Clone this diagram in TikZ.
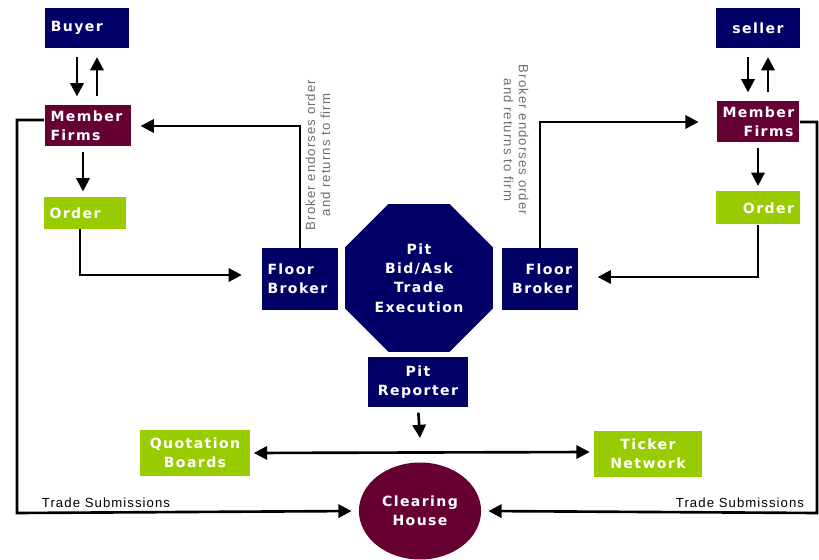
\documentclass[tikz,border=0pt]{standalone}
\usepackage{fontspec}
\usepackage{tikz}
\usetikzlibrary{shapes.geometric,arrows.meta}
\newfontfamily\boxfont[LetterSpace=10]{DejaVu Sans Bold}
\newfontfamily\notefont[LetterSpace=8]{Liberation Sans}
\definecolor{navy}{RGB}{0,0,102}
\definecolor{wine}{RGB}{102,0,51}
\definecolor{lime}{RGB}{153,204,0}
\definecolor{notegrey}{RGB}{110,110,110}

\begin{document}
\begin{tikzpicture}[x=0.02cm,y=-0.02cm,
        box/.style={rectangle,text=white,inner sep=3pt,
            font=\boxfont\fontsize{8}{11}\selectfont},
        navybox/.style={box,fill=navy},
        winebox/.style={box,fill=wine},
        limebox/.style={box,fill=lime},
        arr/.style={line width=1.5pt,-{Triangle[length=7.5pt,width=7.5pt]}},
        note/.style={text=notegrey,font=\notefont\fontsize{7.5}{8.5}\selectfont,align=center},
        sub/.style={font=\notefont\fontsize{7.5}{8}\selectfont}]
                % Fix the page size
                \useasboundingbox (0,0) rectangle (819,560);
                % Draw the buyer side
                \node[navybox,minimum width=1.7cm,minimum height=0.8cm,text width=1.45cm,align=left] (buyer) at (87,28) {Buyer};
                \node[winebox,minimum width=1.74cm,minimum height=0.82cm,text width=1.5cm,align=left] (mfl) at (88,126) {Member\\Firms};
                \node[limebox,minimum width=1.66cm,minimum height=0.64cm,text width=1.42cm,align=left] (ordl) at (85,213) {Order};
                \node[navybox,minimum width=1.54cm,minimum height=1.24cm,text width=1.3cm,align=left] (fbl) at (300,279) {Floor\\Broker};
                % Draw the seller side
                \node[navybox,minimum width=1.68cm,minimum height=0.8cm,align=center] (seller) at (758,28) {seller};
                \node[winebox,minimum width=1.66cm,minimum height=0.82cm,text width=1.42cm,align=right] (mfr) at (758,122) {Member\\Firms};
                \node[limebox,minimum width=1.68cm,minimum height=0.66cm,text width=1.44cm,align=right] (ordr) at (758,208) {Order};
                \node[navybox,minimum width=1.52cm,minimum height=1.24cm,text width=1.28cm,align=right] (fbr) at (540,279) {Floor\\Broker};
                % Draw the pit in the middle
                \node[navybox,regular polygon,regular polygon sides=8,minimum size=3.2cm,align=center] (pit) at (419,278) {Pit\\Bid/Ask\\Trade\\Execution};
                \node[navybox,minimum width=2cm,minimum height=1cm,align=center] (rep) at (418,382) {Pit\\Reporter};
                \node[limebox,minimum width=2.2cm,minimum height=0.94cm,align=center] (quote) at (195,453) {Quotation\\Boards};
                \node[limebox,minimum width=2.18cm,minimum height=0.92cm,align=center] (ticker) at (648,454) {Ticker\\Network};
                \node[box,fill=wine,ellipse,minimum width=2cm,minimum height=1.94cm,align=center] (clear) at (420,511) {Clearing\\House};
                % Buyer and seller talk to their firms
                \draw[arr,shorten <=5pt,shorten >=5pt] ([xshift=-0.2cm]buyer.south) -- ([xshift=-0.2cm]buyer.south |- mfl.north);
                \draw[arr,shorten <=5pt,shorten >=5pt] ([xshift=0.2cm]buyer.south |- mfl.north) -- ([xshift=0.2cm]buyer.south);
                \draw[arr,shorten <=5pt,shorten >=5pt] ([xshift=-0.2cm]seller.south) -- ([xshift=-0.2cm]seller.south |- mfr.north);
                \draw[arr,shorten <=5pt,shorten >=5pt] ([xshift=0.2cm]seller.south |- mfr.north) -- ([xshift=0.2cm]seller.south);
                % Firms pass the order on
                \draw[arr,shorten <=3pt,shorten >=3pt] ([xshift=-0.04cm]ordl.north |- mfl.south) -- ([xshift=-0.04cm]ordl.north);
                \draw[arr,shorten <=3pt,shorten >=3pt] (mfr.south) -- (ordr.north);
                \draw[arr,shorten >=11pt] ([xshift=-0.1cm]ordl.south) |- ([yshift=0.08cm]fbl.west);
                \draw[arr,shorten >=11pt] (ordr.south) |- ([yshift=0.04cm]fbr.west -| fbr.east);
                % Brokers send the order back to the firms
                \draw[arr,shorten >=5pt] (fbl.north) |- (mfl.east);
                \draw[arr,shorten >=10pt] (fbr.north) |- (mfr.west);
                \node[note,rotate=90] (notel) at (318,155) {Broker endorses order\\and returns to firm};
                \node[note,rotate=-90] (noter) at (516,140) {Broker endorses order\\and returns to firm};
                % Pit reporter feeds the boards
                \coordinate (feed) at (420,438);
                \draw[arr,shorten <=3pt] (rep.south) -- (feed);
                \draw[line width=1.5pt,{Triangle[length=7.5pt,width=7.5pt]}-{Triangle[length=7.5pt,width=7.5pt]},shorten <=2pt,shorten >=2pt] (quote.east) -- ([yshift=0.04cm]ticker.west);
                % Trade submissions go to the clearing house
                \coordinate (cornl) at (17,513);
                \coordinate (cornr) at (817,513);
                \draw[arr,shorten >=4pt] ([yshift=0.12cm]mfl.west) -| (cornl) -- (clear.west);
                \draw[arr,shorten >=4pt] (mfr.east) -| (cornr) -- (clear.east);
                \node[sub] (subl) at (106,503) {Trade Submissions};
                \node[sub] (subr) at (740,503) {Trade Submissions};
            \end{tikzpicture}
\end{document}
